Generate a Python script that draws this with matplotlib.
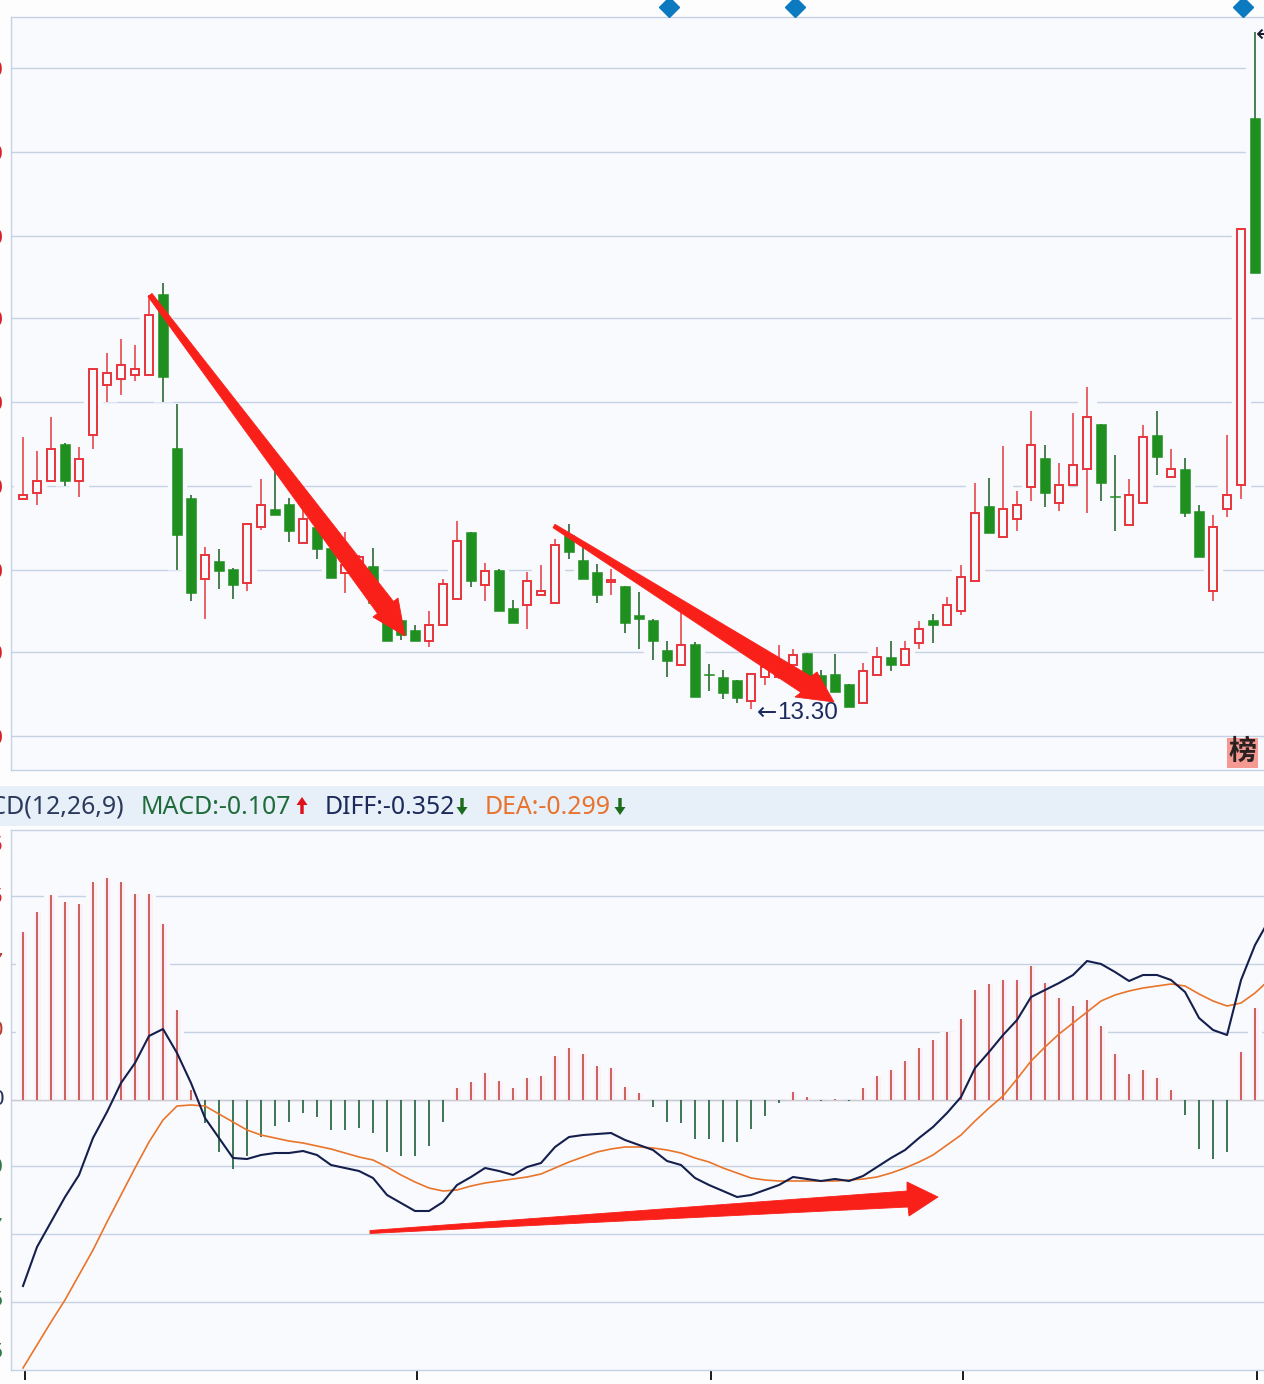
import matplotlib
matplotlib.use('Agg')
import matplotlib.pyplot as plt
from matplotlib.patches import Polygon, Rectangle
import numpy as np

# daily candles
highs = [16.02, 15.88, 16.22, 15.96, 15.92, 16.71, 16.86, 17.00, 16.94, 17.44,
         17.56, 16.35, 15.44, 14.92, 14.90, 14.71, 15.15, 15.60, 15.72, 15.41,
         15.36, 15.29, 15.09, 15.07, 14.84, 14.91, 14.29, 14.19, 14.14, 14.28,
         14.60, 15.18, 15.07, 14.76, 14.70, 14.39, 14.67, 14.74, 15.00, 15.15,
         14.96, 14.75, 14.70, 14.53, 14.47, 14.20, 13.98, 14.27, 13.97, 13.75,
         13.69, 13.59, 13.65, 13.79, 13.94, 13.90, 13.86, 13.69, 13.85, 13.55,
         13.76, 13.92, 13.98, 13.98, 14.18, 14.25, 14.42, 14.74, 15.56, 15.61,
         15.93, 15.48, 16.28, 15.94, 15.76, 16.26, 16.52, 16.15, 15.84, 15.60,
         16.14, 16.28, 15.90, 15.81, 15.34, 15.24, 16.04, 18.10, 20.07]
lows = [15.40, 15.34, 15.58, 15.53, 15.42, 15.90, 16.37, 16.44, 16.58, 16.64,
        16.37, 14.69, 14.38, 14.20, 14.50, 14.40, 14.48, 15.09, 15.24, 14.97,
        14.96, 14.80, 14.61, 14.46, 14.59, 14.36, 13.98, 13.99, 13.98, 13.92,
        14.14, 14.40, 14.52, 14.38, 14.28, 14.16, 14.10, 14.44, 14.36, 14.80,
        14.60, 14.36, 14.44, 14.06, 13.90, 13.79, 13.62, 13.74, 13.42, 13.48,
        13.40, 13.36, 13.30, 13.54, 13.60, 13.69, 13.59, 13.44, 13.47, 13.32,
        13.36, 13.64, 13.68, 13.74, 13.90, 13.96, 14.14, 14.24, 14.58, 15.06,
        15.02, 15.08, 15.38, 15.32, 15.28, 15.54, 15.26, 15.38, 15.08, 15.14,
        15.36, 15.64, 15.62, 15.22, 14.82, 14.38, 15.22, 15.40, 17.66]
opens = [15.40, 15.46, 15.58, 15.95, 15.58, 16.04, 16.54, 16.60, 16.64, 16.64,
         17.45, 15.91, 15.41, 14.60, 14.78, 14.70, 14.56, 15.12, 15.30, 15.35,
         14.96, 15.12, 14.91, 14.66, 14.69, 14.73, 14.19, 14.19, 14.09, 13.98,
         14.14, 14.40, 15.07, 14.54, 14.69, 14.31, 14.34, 14.44, 14.36, 15.04,
         14.79, 14.67, 14.57, 14.53, 14.24, 14.19, 13.89, 13.74, 13.95, 13.65,
         13.62, 13.59, 13.38, 13.62, 13.62, 13.74, 13.86, 13.64, 13.65, 13.55,
         13.36, 13.64, 13.82, 13.74, 13.96, 14.19, 14.14, 14.28, 14.58, 15.33,
         15.02, 15.20, 15.52, 15.81, 15.36, 15.54, 15.70, 16.15, 15.43, 15.14,
         15.36, 16.04, 15.62, 15.70, 15.28, 14.48, 15.30, 15.54, 19.21]
closes = [15.44, 15.58, 15.90, 15.58, 15.80, 16.70, 16.66, 16.74, 16.70, 17.24,
          16.62, 15.04, 14.46, 14.84, 14.68, 14.54, 15.15, 15.34, 15.24, 15.08,
          15.20, 14.90, 14.61, 14.74, 14.82, 14.36, 13.98, 14.04, 13.98, 14.14,
          14.55, 14.98, 14.58, 14.68, 14.28, 14.16, 14.58, 14.48, 14.94, 14.87,
          14.60, 14.44, 14.59, 14.16, 14.20, 13.98, 13.78, 13.94, 13.42, 13.64,
          13.46, 13.41, 13.65, 13.72, 13.76, 13.84, 13.62, 13.49, 13.47, 13.32,
          13.68, 13.82, 13.74, 13.90, 14.10, 14.14, 14.34, 14.62, 15.26, 15.06,
          15.30, 15.34, 15.94, 15.46, 15.54, 15.74, 16.22, 15.56, 15.42, 15.44,
          16.02, 15.82, 15.70, 15.26, 14.82, 15.12, 15.44, 18.10, 17.66]

# macd panel
macd = [1.68, 1.88, 2.05, 1.98, 1.96, 2.18, 2.22, 2.18, 2.06, 2.06,
        1.76, 0.90, 0.10, -0.23, -0.52, -0.69, -0.56, -0.37, -0.26, -0.22,
        -0.13, -0.17, -0.30, -0.30, -0.28, -0.33, -0.52, -0.56, -0.56, -0.46,
        -0.22, 0.12, 0.18, 0.27, 0.19, 0.12, 0.22, 0.24, 0.44, 0.52,
        0.46, 0.34, 0.32, 0.13, 0.07, -0.07, -0.22, -0.23, -0.39, -0.39,
        -0.42, -0.42, -0.29, -0.16, -0.03, 0.08, 0.03, -0.01, 0.01, -0.01,
        0.12, 0.24, 0.30, 0.39, 0.52, 0.60, 0.68, 0.81, 1.10, 1.16,
        1.20, 1.20, 1.34, 1.17, 1.02, 0.94, 1.00, 0.74, 0.46, 0.26,
        0.30, 0.22, 0.10, -0.15, -0.49, -0.59, -0.52, 0.48, 0.92]
diff = [-1.86, -1.47, -1.22, -0.97, -0.75, -0.38, -0.12, 0.17, 0.37, 0.64,
        0.71, 0.47, 0.17, -0.18, -0.38, -0.58, -0.59, -0.55, -0.53, -0.53,
        -0.51, -0.55, -0.65, -0.68, -0.71, -0.78, -0.95, -1.03, -1.11, -1.11,
        -1.02, -0.85, -0.77, -0.68, -0.71, -0.75, -0.67, -0.63, -0.47, -0.37,
        -0.35, -0.34, -0.33, -0.40, -0.45, -0.50, -0.61, -0.65, -0.78, -0.85,
        -0.91, -0.97, -0.95, -0.90, -0.85, -0.77, -0.79, -0.81, -0.79, -0.81,
        -0.76, -0.67, -0.58, -0.50, -0.38, -0.27, -0.13, 0.03, 0.32, 0.48,
        0.65, 0.80, 1.03, 1.10, 1.17, 1.25, 1.39, 1.36, 1.28, 1.19,
        1.25, 1.25, 1.20, 1.08, 0.82, 0.70, 0.65, 1.20, 1.55, 1.80]
dea = [-2.68, -2.45, -2.22, -2.00, -1.75, -1.50, -1.22, -0.95, -0.68, -0.42,
       -0.20, -0.06, -0.05, -0.06, -0.14, -0.22, -0.30, -0.35, -0.38, -0.41,
       -0.43, -0.46, -0.49, -0.53, -0.57, -0.60, -0.67, -0.75, -0.82, -0.88,
       -0.91, -0.90, -0.86, -0.83, -0.81, -0.79, -0.77, -0.74, -0.68, -0.62,
       -0.57, -0.52, -0.49, -0.47, -0.47, -0.48, -0.50, -0.53, -0.58, -0.62,
       -0.68, -0.73, -0.78, -0.80, -0.81, -0.81, -0.81, -0.81, -0.81, -0.80,
       -0.79, -0.77, -0.73, -0.68, -0.62, -0.55, -0.45, -0.35, -0.21, -0.08,
       0.04, 0.21, 0.39, 0.53, 0.66, 0.77, 0.88, 0.99, 1.05, 1.09,
       1.12, 1.14, 1.16, 1.14, 1.06, 0.99, 0.94, 0.97, 1.07, 1.20]

price_ticks = [19.71, 18.87, 18.03, 17.21, 16.37, 15.53, 14.69, 13.87, 13.03]
price_labels = ['19.70', '18.90', '18.00', '17.20', '16.40', '15.50', '14.70', '13.90', '13.00']
macd_ticks = [2.04, 1.36, 0.68, 0, -0.66, -1.34, -2.02]
macd_label_pos = [2.57, 2.05, 1.40, 0.72, 0.03, -0.65, -1.25, -1.98, -2.50]
macd_labels = ['1.35', '1.05', '0.67', '0.30', '0', '-0.30', '-0.67', '-1.05', '-1.35']
macd_label_colors = ['#d8202a', '#d8202a', '#b83a30', '#b83a30', '#26305f', '#2f7a4a', '#2f7a4a', '#2f7a4a', '#2f7a4a']
signal_days = [46.14, 55.14, 87.14]
date_ticks = [0.14, 28.14, 49.14, 67.14, 88.14]

W, H = 1264, 1384
BG = '#f9fafe'
GRID = '#c5d2e4'
UP = '#e8343c'
DOWN_BODY = '#1f8f1f'
DOWN_WICK = '#2c6b35'
ARROW = '#f9201a'
SANS = ['Liberation Sans', 'DejaVu Sans']
HEAD = ['Noto Sans', 'DejaVu Sans']

fig = plt.figure(figsize=(W / 100, H / 100), dpi=100, facecolor='#fdfdfe')


def panel(top, bottom):
    a = fig.add_axes([11 / W, 1 - bottom / H, 1 - 11 / W, (bottom - top) / H], facecolor=BG)
    for s in a.spines.values():
        s.set_color(GRID)
        s.set_linewidth(1)
    a.spines['right'].set_visible(False)
    a.set_xlim(-0.857, 88.64)
    a.set_xticks([])
    a.tick_params(left=False, labelleft=False)
    return a


ax = panel(17, 770)
ax.set_ylim(12.69, 20.22)
ax.set_yticks(price_ticks)
ax.grid(axis='y', color=GRID, lw=1, zorder=1)
ax.set_axisbelow(True)

days = np.arange(len(closes))
o = np.array(opens)
c = np.array(closes)
up = c >= o
ax.vlines(days, lows, highs, color=BG, lw=14, zorder=1.5)
ax.vlines(days[up], np.array(lows)[up], np.array(highs)[up], color='#e5484f', lw=1.2, zorder=2)
ax.vlines(days[~up], np.array(lows)[~up], np.array(highs)[~up], color=DOWN_WICK, lw=1.2, zorder=2)
ax.bar(days[up], (c - o)[up], bottom=o[up], width=0.62, facecolor=BG, edgecolor=UP, lw=1.4, zorder=3)
ax.bar(days[~up], (o - c)[~up], bottom=c[~up], width=0.71, facecolor=DOWN_BODY, edgecolor=DOWN_BODY, lw=0.4, zorder=3)

ax.plot(signal_days, [20.32] * len(signal_days), ls='none', marker='D', ms=10.5, color='#0b7ac0',
        clip_on=False, zorder=6)
ax.text(53.86, 13.26, '13.30', color='#1c2a5e', fontsize=17.5, family=SANS, va='center', zorder=7)
ax.text(53.86, 13.26, '←', color='#1c2a5e', fontsize=17.5, family='DejaVu Sans', va='center', ha='right', zorder=7)
ax.text(88.05, 20.04, '←20.07', color='#1a1a2e', fontsize=17.5, family=['DejaVu Sans'], va='center', zorder=7,
        clip_on=True)
for t, lab in zip(price_ticks, price_labels):
    ax.text(-8 / 1253, t, lab, transform=ax.get_yaxis_transform(), ha='right', va='center_baseline',
            color='#d8202a', fontsize=16, family=SANS, clip_on=False)

ax2 = panel(830, 1370)
ax2.set_ylim(-2.70, 2.70)
ax2.set_yticks(macd_ticks)
ax2.grid(axis='y', color=GRID, lw=1, zorder=1)
ax2.set_axisbelow(True)

m = np.array(macd)
pos = m >= 0
ax2.vlines(days[pos], 0, m[pos], color=BG, lw=10.2, zorder=1.4)
ax2.vlines(days[pos], 0, m[pos], color='#fdeff5', lw=5, zorder=1.5)
ax2.vlines(days[pos], 0, m[pos], color='#c4564e', lw=1.3, zorder=2)
ax2.vlines(days[~pos], 0, m[~pos], color='#2f6b47', lw=1.3, zorder=2)
ax2.axhline(0, color='#cfc9d4', lw=1, zorder=1.8)
ax2.plot(np.arange(len(dea)), dea, color='#e9742a', lw=1.2, zorder=3)
ax2.plot(np.arange(len(diff)), diff, color='#141f4d', lw=1.5, zorder=4)
for t, lab, col in zip(macd_label_pos, macd_labels, macd_label_colors):
    ax2.text(-8 / 1253, t, lab, transform=ax2.get_yaxis_transform(), ha='right', va='center_baseline',
             color=col, fontsize=16, family=SANS, clip_on=False)
ax2.set_xticks(date_ticks)
ax2.set_xticklabels([])
ax2.tick_params(axis='x', length=7, width=1.4, color='#1a1a1a', bottom=True)

# overlay in image pixels for the hand-drawn arrows and the header strip
ov = fig.add_axes([0, 0, 1, 1], facecolor='none', zorder=10)
ov.set_xlim(0, W)
ov.set_ylim(H, 0)
ov.axis('off')

ov.add_patch(Rectangle((0, 786), W, 40, facecolor='#e7eff8', edgecolor='none'))
ov.add_patch(Rectangle((1227, 738), 31, 30, facecolor='#f59a93', edgecolor='none'))
ov.text(1242.5, 752, '榜', family=['Noto Sans CJK SC', 'DejaVu Sans'], fontsize=20, weight='bold', color='#2a2222',
        ha='center', va='center')

arrow_shapes = [
    [(152, 293.5), (393.5, 601.5), (398, 598), (405, 636), (373, 617), (377.5, 613.5), (148, 296.5)],
    [(555, 524.3), (811, 676.5), (817, 672), (834, 702), (795, 697), (801, 692.5), (553, 527.7)],
    [(370, 1230.5), (907, 1191), (907, 1182), (938, 1197), (909, 1216), (908, 1207), (370, 1233.5)],
]
for pts in arrow_shapes:
    ov.add_patch(Polygon(pts, closed=True, facecolor=ARROW, edgecolor=ARROW, lw=0.6))


def header_arrow(x, color, pointing_up):
    # small block arrow next to a header value, y runs downward here
    d = -1 if pointing_up else 1
    cy = 806
    shape = [(x - 1.7, cy - 8 * d), (x + 1.7, cy - 8 * d), (x + 1.7, cy + 1 * d), (x + 5.5, cy + 1 * d),
             (x, cy + 9 * d), (x - 5.5, cy + 1 * d), (x - 1.7, cy + 1 * d)]
    ov.add_patch(Polygon(shape, closed=True, facecolor=color, edgecolor='none'))


hy = 807
hs = 17.9
ov.text(124, hy, 'MACD(12,26,9)', ha='right', va='center', color='#2b3a5c', fontsize=hs, family=HEAD)
ov.text(141, hy, 'MACD:-0.107', ha='left', va='center', color='#1f6b3a', fontsize=hs, family=HEAD)
header_arrow(302, '#e0101a', True)
ov.text(325, hy, 'DIFF:-0.352', ha='left', va='center', color='#1b2a5a', fontsize=hs, family=HEAD)
header_arrow(462, '#1d6b1d', False)
ov.text(485, hy, 'DEA:-0.299', ha='left', va='center', color='#e8722e', fontsize=hs, family=HEAD)
header_arrow(620, '#1d6b1d', False)

fig.savefig('out.png', dpi=100, facecolor=fig.get_facecolor())
